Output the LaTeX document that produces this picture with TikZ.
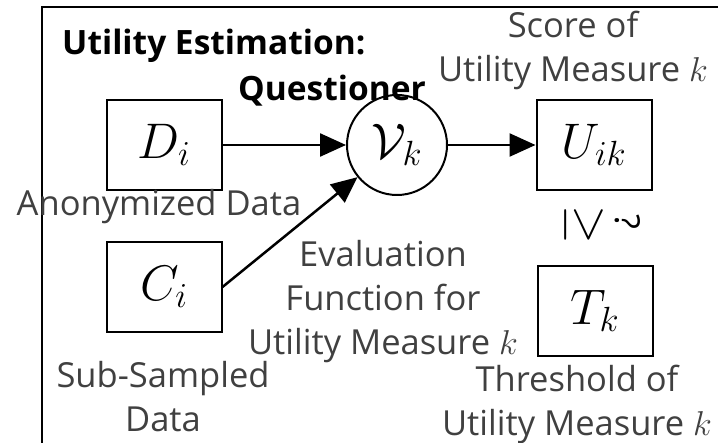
\RequirePackage{fix-cm}
\documentclass[tikz,border=0pt]{standalone}
\usepackage{fontspec}
\setmainfont{Open Sans}
\usepackage{graphicx}
\usepackage{tikz}
\usetikzlibrary{arrows.meta}
\definecolor{mytext}{RGB}{64,64,64}
\newcommand{\notefont}{\fontsize{34.5}{44}\selectfont}
\newcommand{\headfont}{\fontsize{33.5}{40}\selectfont\bfseries}
\newcommand{\symfont}{\fontsize{50}{56}\selectfont}
\tikzset{
  databox/.style={rectangle, draw=black, line width=2pt,
    minimum width=115pt, minimum height=90pt, inner sep=0pt, font=\symfont},
  evalnode/.style={circle, draw=black, line width=2pt,
    minimum size=100pt, inner sep=0pt, font=\symfont},
  note/.style={text=mytext, font=\notefont, align=center, inner sep=0pt},
  headline/.style={font=\headfont, inner sep=0pt, anchor=base west},
  arrow/.style={-{Triangle[length=26pt,width=23pt]}, line width=2.5pt, color=black}
}

\begin{document}
\begin{tikzpicture}[x=1pt, y=-1pt]
  \useasboundingbox (0,0) rectangle (718,443);
  % Frame
  \draw[line width=2.5pt] (42,443) -- (42,7) -- (718,7);
  % Title
  \node[headline] (head1) at (62,55) {Utility Estimation:};
  \node[headline] (head2) at (238,101) {Questioner};
  % Data, evaluation, score and threshold
  \node[databox] (Di) at (164,145) {$D_i$};
  \node[databox] (Ci) at (164,287) {$C_i$};
  \node[evalnode] (Vk) at (397,145) {$\mathcal{V}_k$};
  \node[databox] (Uik) at (594,145) {$U_{ik}$};
  \node[databox] (Tk) at (595,311) {$T_k$};
  % Comparison
  \node[font=\symfont, inner sep=0pt] (geq) at (584,225) {\rotatebox{-90}{$\geq$}};
  \node[font=\notefont, inner sep=0pt] (qmark) at (628,222) {\rotatebox{-90}{?}};
  % Labels
  \node[note] (anon) at (159,207) {Anonymized Data};
  \node[note] (sub) at (163,397) {Sub-Sampled\\Data};
  \node[note] (eval) at (383,302) {Evaluation\\Function for\\Utility Measure $k$};
  \node[note] (score) at (573,50) {Score of\\Utility Measure $k$};
  \node[note] (thr) at (577,404) {Threshold of\\Utility Measure $k$};
  % Arrows
  \draw[arrow] (Di) -- (Vk);
  \draw[arrow] (Ci.east) -- (Vk);
  \draw[arrow] (Vk) -- (Uik);
\end{tikzpicture}
\end{document}
